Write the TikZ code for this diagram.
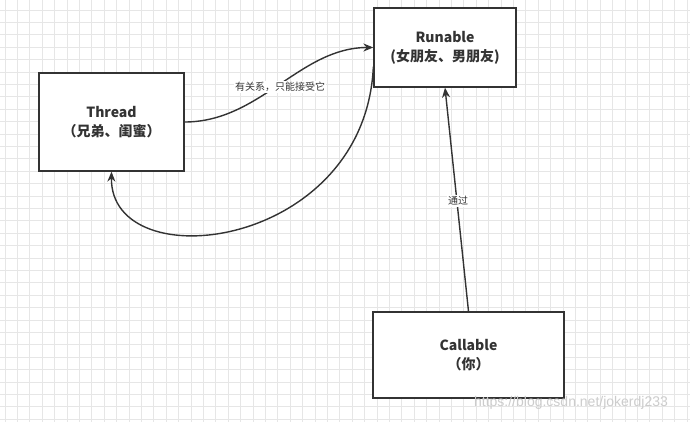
\documentclass[tikz,border=0pt]{standalone}
\usepackage{fontspec}
\setmainfont{Noto Sans CJK SC}
\newfontfamily\wmfont{Liberation Sans}
\usetikzlibrary{arrows.meta}
\definecolor{inkgray}{HTML}{333333}
\definecolor{gridgray}{HTML}{E6E6E6}

\begin{document}
\begin{tikzpicture}[x=1pt,y=-1pt]
  \tikzset{gridline/.style={draw=gridgray,line width=0.8pt}}
  \tikzset{classbox/.style={rectangle,draw=inkgray,fill=white,line width=1.3pt,align=center,text=inkgray,font=\bfseries\fontsize{14}{19}\selectfont}}
  \tikzset{classedge/.style={draw=inkgray,line width=1.4pt,-{Stealth[length=10pt,width=8pt]}}}
  \tikzset{edgetag/.style={font=\fontsize{10}{12}\selectfont,inner sep=1pt,fill=white,text=inkgray}}
  \useasboundingbox (0,0) rectangle (690,422);
  \fill[white] (0,0) rectangle (690,422);
  \foreach \gx in {5,17.4,...,690} {\draw[gridline] (\gx,0) -- (\gx,422);}
  \foreach \gy in {10,22.4,...,422} {\draw[gridline] (0,\gy) -- (690,\gy);}
  \node[classbox,minimum width=145pt,minimum height=98pt] (thread) at (111.5,122) {Thread\\（兄弟、闺蜜）};
  \node[classbox,minimum width=142pt,minimum height=79pt] (runable) at (445,47.5) {Runable\\(女朋友、男朋友)};
  \node[classbox,minimum width=191pt,minimum height=86pt] (callable) at (468.5,355) {Callable\\（你）};
  \draw[classedge] (thread.east) .. controls (260,122) and (300,47.5) .. (runable.west);
  \node[edgetag] (tagrel) at (280,87) {有关系，只能接受它};
  \draw[classedge] (runable.195) .. controls (365,250) and (110,280) .. (thread.south);
  \draw[classedge] (callable.north) -- (runable.south);
  \node[edgetag] (tagvia) at (458,201) {通过};
  \node[text=gray!40,font=\wmfont\fontsize{14}{16}\selectfont,inner sep=0pt] (watermark) at (571,403) {https://blog.csdn.net/jokerdj233};
\end{tikzpicture}
\end{document}
